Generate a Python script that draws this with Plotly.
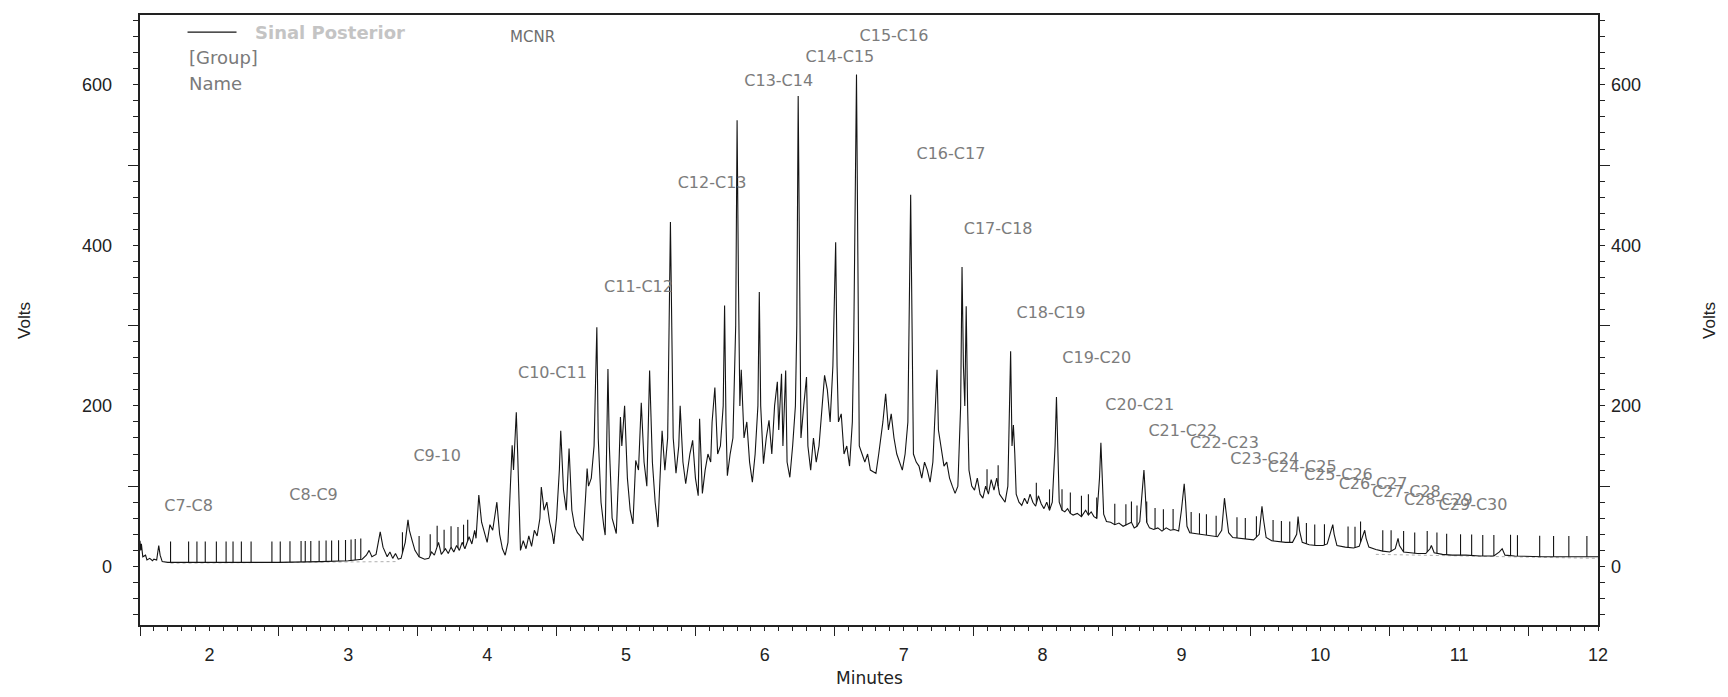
import numpy as np
import plotly.graph_objects as go

# chromatogram trace, (minutes, volts), split by region
sig_start = [(1.50, 32), (1.505, 20), (1.51, 28), (1.52, 12), (1.54, 14), (1.55, 8), (1.57, 10),
             (1.59, 7), (1.60, 9), (1.62, 8), (1.635, 26), (1.645, 14), (1.66, 6), (1.70, 5)]

sig_flat = [(1.75, 5), (2.0, 5), (2.5, 5), (2.8, 6), (3.0, 7), (3.1, 9), (3.13, 14), (3.15, 20),
            (3.17, 12), (3.20, 15), (3.23, 43), (3.25, 24), (3.26, 20), (3.28, 12), (3.30, 18),
            (3.32, 10), (3.34, 16), (3.36, 9), (3.38, 10), (3.41, 30), (3.43, 58), (3.44, 45),
            (3.46, 32), (3.48, 20), (3.51, 12), (3.55, 9), (3.58, 10), (3.60, 18), (3.62, 14),
            (3.65, 30), (3.67, 15), (3.70, 22), (3.72, 16), (3.74, 24), (3.76, 18), (3.78, 26),
            (3.80, 20), (3.82, 30), (3.84, 22), (3.87, 37), (3.89, 28), (3.91, 45), (3.92, 35)]

sig_rise = [(3.94, 89), (3.96, 55), (3.98, 41), (4.00, 30), (4.02, 52), (4.04, 45), (4.07, 80),
            (4.09, 40), (4.11, 22), (4.13, 14), (4.15, 30), (4.17, 110), (4.18, 151), (4.19, 120),
            (4.21, 192), (4.22, 140), (4.23, 60), (4.24, 20), (4.26, 32), (4.28, 22), (4.30, 38),
            (4.32, 25), (4.34, 45), (4.36, 38), (4.38, 60), (4.39, 99), (4.41, 70), (4.43, 80),
            (4.45, 55), (4.47, 40), (4.48, 28), (4.50, 60), (4.52, 120), (4.53, 169), (4.55, 95),
            (4.57, 70), (4.59, 147), (4.61, 70), (4.63, 50), (4.65, 42), (4.67, 38), (4.69, 32),
            (4.71, 90), (4.72, 122), (4.73, 100), (4.75, 110), (4.77, 150), (4.79, 298),
            (4.80, 160), (4.82, 80), (4.84, 50), (4.85, 39), (4.87, 246), (4.88, 150), (4.90, 60),
            (4.92, 45), (4.93, 41), (4.95, 130), (4.96, 186), (4.97, 150), (4.99, 200),
            (5.01, 110), (5.03, 70), (5.05, 53), (5.07, 132), (5.09, 120), (5.11, 204),
            (5.13, 130), (5.15, 100), (5.17, 244), (5.19, 130), (5.21, 80), (5.23, 49),
            (5.25, 130), (5.26, 169), (5.28, 120), (5.30, 160), (5.32, 429), (5.33, 300),
            (5.34, 160), (5.36, 116), (5.38, 150), (5.39, 200), (5.41, 130), (5.43, 103)]

sig_top = [(5.45, 130), (5.46, 140), (5.48, 157), (5.50, 110), (5.52, 88), (5.53, 184), (5.55, 91),
           (5.57, 120), (5.59, 140), (5.61, 130), (5.62, 180), (5.64, 223), (5.66, 140),
           (5.68, 150), (5.70, 200), (5.71, 325), (5.72, 180), (5.73, 113), (5.75, 140),
           (5.77, 160), (5.79, 300), (5.80, 556), (5.81, 350), (5.82, 200), (5.83, 245),
           (5.85, 160), (5.87, 180), (5.89, 130), (5.91, 105), (5.93, 140), (5.95, 200),
           (5.96, 342), (5.97, 200), (5.99, 128), (6.01, 160), (6.03, 182), (6.05, 140),
           (6.07, 200), (6.09, 230), (6.10, 170), (6.12, 240), (6.13, 150), (6.15, 244),
           (6.16, 130), (6.18, 111), (6.20, 150), (6.22, 200), (6.23, 300), (6.24, 586),
           (6.25, 350), (6.26, 160), (6.28, 200), (6.30, 236), (6.31, 150), (6.33, 120),
           (6.35, 160), (6.37, 130), (6.39, 150), (6.41, 200), (6.43, 238), (6.45, 220),
           (6.47, 180), (6.49, 250), (6.51, 404), (6.52, 250), (6.53, 180), (6.55, 190),
           (6.57, 140), (6.59, 150), (6.61, 125), (6.63, 180), (6.64, 280), (6.66, 613),
           (6.67, 350), (6.68, 150), (6.70, 140), (6.72, 130), (6.74, 140), (6.76, 120),
           (6.78, 118), (6.80, 116), (6.82, 140), (6.85, 180), (6.87, 215), (6.89, 170),
           (6.91, 190), (6.93, 160), (6.95, 140), (6.97, 130), (6.99, 120), (7.01, 140),
           (7.03, 180), (7.05, 463), (7.06, 250), (7.07, 140), (7.09, 130), (7.11, 125),
           (7.13, 110), (7.15, 130), (7.17, 120), (7.19, 105), (7.21, 130), (7.23, 200),
           (7.24, 245), (7.25, 170), (7.27, 150), (7.29, 125), (7.31, 130), (7.33, 110),
           (7.35, 100), (7.37, 91), (7.39, 100), (7.41, 200), (7.42, 373), (7.43, 250),
           (7.44, 200), (7.45, 324), (7.46, 200), (7.47, 120), (7.49, 100), (7.51, 95)]

sig_fall = [(7.53, 110), (7.55, 90), (7.57, 85), (7.59, 100), (7.61, 90), (7.63, 108), (7.65, 95),
            (7.67, 110), (7.69, 90), (7.71, 85), (7.73, 80), (7.75, 100), (7.76, 180),
            (7.77, 268), (7.78, 150), (7.79, 176), (7.80, 140), (7.81, 90), (7.83, 80),
            (7.85, 76), (7.87, 85), (7.89, 78), (7.91, 90), (7.93, 80), (7.95, 75), (7.97, 88),
            (7.99, 78), (8.01, 72), (8.03, 80), (8.05, 70), (8.07, 80), (8.09, 150), (8.10, 211),
            (8.11, 140), (8.12, 80), (8.14, 70), (8.16, 68), (8.18, 72), (8.20, 66), (8.22, 64),
            (8.25, 66), (8.28, 62), (8.31, 70), (8.33, 64), (8.35, 68), (8.37, 62), (8.39, 60),
            (8.41, 110), (8.42, 154), (8.43, 110), (8.44, 65), (8.46, 56), (8.49, 55),
            (8.52, 52), (8.55, 54), (8.58, 50), (8.61, 52), (8.64, 55), (8.66, 48), (8.68, 50),
            (8.70, 56), (8.72, 100), (8.73, 120), (8.74, 90), (8.75, 55), (8.77, 48), (8.80, 46),
            (8.83, 48), (8.86, 44), (8.89, 48), (8.92, 45), (8.95, 46), (8.98, 44)]

sig_tail = [(9.00, 70), (9.02, 103), (9.03, 80), (9.04, 50), (9.06, 42), (9.10, 41), (9.14, 40),
            (9.18, 39), (9.22, 38), (9.26, 37), (9.29, 45), (9.31, 85), (9.32, 70), (9.34, 42),
            (9.37, 36), (9.42, 35), (9.47, 34), (9.52, 33), (9.56, 40), (9.58, 75), (9.59, 60),
            (9.61, 36), (9.65, 32), (9.70, 31), (9.75, 30), (9.80, 30), (9.83, 40), (9.84, 62),
            (9.85, 45), (9.87, 30), (9.92, 27), (9.97, 26), (10.02, 26), (10.05, 28), (10.07, 40),
            (10.09, 52), (10.10, 40), (10.12, 26), (10.18, 24), (10.24, 23), (10.28, 25),
            (10.30, 35), (10.32, 45), (10.33, 35), (10.35, 24), (10.40, 21), (10.45, 19),
            (10.50, 18), (10.54, 22), (10.56, 35), (10.57, 26), (10.60, 18), (10.65, 17),
            (10.70, 16), (10.76, 16), (10.79, 22), (10.80, 26), (10.82, 17), (10.88, 15),
            (10.95, 14), (11.05, 14), (11.15, 13), (11.25, 13), (11.29, 18), (11.31, 22),
            (11.33, 14), (11.40, 13), (11.60, 12), (11.80, 12), (12.00, 12)]

# integration event marks (minutes)
mark_times = [1.72, 1.85, 1.91, 1.97, 2.05, 2.12, 2.17, 2.23, 2.30, 2.45, 2.51, 2.58, 2.66, 2.69,
              2.73, 2.79, 2.84, 2.88, 2.93, 2.98, 3.02, 3.05, 3.09, 3.39, 3.51, 3.59, 3.64, 3.69,
              3.74, 3.79, 3.83, 3.86, 7.60, 7.68, 7.955, 8.05, 8.14, 8.20, 8.28, 8.33, 8.39,
              8.52, 8.60, 8.64, 8.68, 8.75, 8.81, 8.87, 8.94, 9.07, 9.13, 9.18, 9.25, 9.40, 9.46,
              9.54, 9.66, 9.72, 9.78, 9.90, 9.96, 10.03, 10.20, 10.25, 10.29, 10.45, 10.51,
              10.60, 10.68, 10.77, 10.84, 10.91, 11.01, 11.09, 11.17, 11.25, 11.37, 11.42,
              11.58, 11.68, 11.79, 11.92]

# dotted integration baselines
base_early = [(1.72, 4), (3.35, 6)]
base_late = [(10.40, 15), (12.0, 10)]

peak_labels = ["C7-C8", "C8-C9", "C9-10", "C10-C11", "C11-C12", "C12-C13", "C13-C14",
               "C14-C15", "C15-C16", "C16-C17", "C17-C18", "C18-C19", "C19-C20", "C20-C21",
               "C21-C22", "C22-C23", "C23-C24", "C24-C25", "C25-C26", "C26-C27", "C27-C28",
               "C28-C29", "C29-C30"]
label_t = [1.85, 2.75, 3.64, 4.47, 5.09, 5.62, 6.10, 6.54, 6.93, 7.34, 7.68, 8.06, 8.39, 8.70,
           9.01, 9.31, 9.60, 9.87, 10.13, 10.38, 10.62, 10.85, 11.10]
label_v = [74, 88, 136, 240, 347, 477, 603, 634, 660, 512, 419, 315, 259, 200, 168, 153, 133,
           122, 113, 101, 92, 82, 75]

x_labels = [2, 3, 4, 5, 6, 7, 8, 9, 10, 11, 12]
y_labels = [0, 200, 400, 600]
y_long = [100, 300, 500]
x_long = [1.5, 2.5, 3.5, 4.5, 5.5, 6.5, 7.5, 8.5, 9.5, 10.5, 11.5]

MARK_LEN = 26
FONT = "Liberation Sans, Arial, sans-serif"
WIDE = "DejaVu Sans, sans-serif"

sig = sig_start + sig_flat + sig_rise + sig_top + sig_fall + sig_tail
sig_t = np.array([p[0] for p in sig])
sig_v = np.array([p[1] for p in sig])

mx, my = [], []
for t in mark_times:
    b = float(np.interp(t, sig_t, sig_v))
    mx += [t, t, None]
    my += [b, b + MARK_LEN, None]

bx, by = [], []
for seg in (base_early, base_late):
    bx += [p[0] for p in seg] + [None]
    by += [p[1] for p in seg] + [None]

fig = go.Figure()
fig.add_trace(go.Scatter(x=bx, y=by, mode="lines",
                         line=dict(color="#b0b0b0", width=1, dash="dot"), hoverinfo="skip"))
fig.add_trace(go.Scatter(x=sig_t, y=sig_v, mode="lines", name="Sinal Posterior",
                         line=dict(color="#141414", width=1.1)))
fig.add_trace(go.Scatter(x=mx, y=my, mode="lines",
                         line=dict(color="#141414", width=1.1), hoverinfo="skip"))
fig.add_trace(go.Scatter(x=label_t, y=label_v, mode="text", text=peak_labels,
                         textfont=dict(family=WIDE, size=16, color="#7c7c7c"), hoverinfo="skip"))
# empty traces so that the overlay axes get drawn
for xa, ya in (("x2", "y"), ("x", "y2"), ("x", "y3"), ("x", "y4")):
    fig.add_trace(go.Scatter(x=[None], y=[None], xaxis=xa, yaxis=ya, hoverinfo="skip"))

YR = [-73, 687]
XR = [1.5, 12]
ax_common = dict(showgrid=False, zeroline=False, linecolor="#222", tickcolor="#222",
                 tickfont=dict(family=FONT, size=18, color="#222"))

fig.update_layout(
    width=1712, height=681,
    margin=dict(l=132, r=122, t=5, b=64),
    plot_bgcolor="white", paper_bgcolor="white",
    showlegend=False,
    font=dict(family=FONT),
    xaxis=dict(range=XR, tickmode="array", tickvals=x_labels, ticks="",
               showline=True, linewidth=1.5, mirror=True, ticklabelstandoff=13,
               minor=dict(tickmode="linear", tick0=1.5, dtick=0.1, ticks="outside",
                          ticklen=4, tickcolor="#222"),
               **ax_common),
    xaxis2=dict(range=XR, overlaying="x", anchor="y", side="bottom", tickmode="array",
                tickvals=x_long, ticks="outside", ticklen=10, showticklabels=False,
                showline=False, **ax_common),
    yaxis=dict(range=YR, tickmode="array", tickvals=y_long, ticks="outside", ticklen=10,
               showticklabels=False, showline=True, linewidth=1.5,
               minor=dict(tickmode="linear", tick0=0, dtick=20, ticks="outside",
                          ticklen=5, tickcolor="#222"),
               **ax_common),
    yaxis2=dict(range=YR, overlaying="y", anchor="x", side="right", tickmode="array",
                tickvals=y_long, ticks="outside", ticklen=10, showticklabels=False,
                showline=True, linewidth=1.5,
                minor=dict(tickmode="linear", tick0=0, dtick=20, ticks="outside",
                           ticklen=5, tickcolor="#222"),
                **ax_common),
    yaxis3=dict(range=YR, overlaying="y", anchor="x", side="left", tickmode="array",
                tickvals=y_labels, ticks="", showline=False, ticklabelstandoff=27,
                **ax_common),
    yaxis4=dict(range=YR, overlaying="y", anchor="x", side="right", tickmode="array",
                tickvals=y_labels, ticks="", showline=False, ticklabelstandoff=12,
                **ax_common),
)

# axis titles
fig.add_annotation(text="Minutes", xref="paper", yref="paper", x=0.5, y=-0.0866,
                   xanchor="center", yanchor="middle", showarrow=False,
                   font=dict(family=WIDE, size=17, color="#222"))
fig.add_annotation(text="Volts", xref="paper", yref="paper", x=-0.0796, y=0.5,
                   xanchor="center", yanchor="middle", textangle=-90, showarrow=False,
                   font=dict(size=17, color="#222"))
fig.add_annotation(text="Volts", xref="paper", yref="paper", x=1.0761, y=0.5,
                   xanchor="center", yanchor="middle", textangle=-90, showarrow=False,
                   font=dict(size=17, color="#222"))

# legend block in the top left corner
fig.add_shape(type="line", xref="paper", yref="paper", x0=0.0326, x1=0.0662, y0=0.972, y1=0.972,
              line=dict(color="#141414", width=1.3))
fig.add_annotation(text="<b>Sinal Posterior</b>", xref="paper", yref="paper", x=0.0775, y=0.972,
                   xanchor="left", yanchor="middle", showarrow=False,
                   font=dict(family=WIDE, size=18, color="#c4c4c4"))
fig.add_annotation(text="[Group]", xref="paper", yref="paper", x=0.0322, y=0.930,
                   xanchor="left", yanchor="middle", showarrow=False,
                   font=dict(family=WIDE, size=18, color="#7a7a7a"))
fig.add_annotation(text="Name", xref="paper", yref="paper", x=0.0322, y=0.888,
                   xanchor="left", yanchor="middle", showarrow=False,
                   font=dict(family=WIDE, size=18, color="#7a7a7a"))
fig.add_annotation(text="MCNR", xref="paper", yref="paper", x=0.2695, y=0.964,
                   xanchor="center", yanchor="middle", showarrow=False,
                   font=dict(family=WIDE, size=15, color="#6e6e6e"))

fig.write_html("out.html")
